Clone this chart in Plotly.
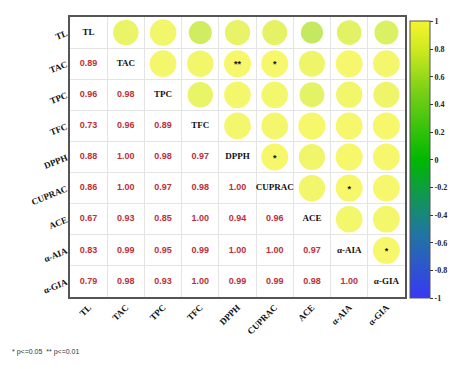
import numpy as np
import plotly.graph_objects as go

labels = ["TL", "TAC", "TPC", "TFC", "DPPH", "CUPRAC", "ACE", "α-AIA", "α-GIA"]

# lower-triangle Pearson coefficients, row by row
lower_rows = [
    [],
    [0.89],
    [0.96, 0.98],
    [0.73, 0.96, 0.89],
    [0.88, 1.00, 0.98, 0.97],
    [0.86, 1.00, 0.97, 0.98, 1.00],
    [0.67, 0.93, 0.85, 1.00, 0.94, 0.96],
    [0.83, 0.99, 0.95, 0.99, 1.00, 1.00, 0.97],
    [0.79, 0.98, 0.93, 1.00, 0.99, 0.99, 0.98, 1.00],
]

# significance marks in the upper triangle: (row, col, mark)
sig_marks = [
    ("TAC", "DPPH", "**"),
    ("TAC", "CUPRAC", "*"),
    ("DPPH", "CUPRAC", "*"),
    ("CUPRAC", "α-AIA", "*"),
    ("α-AIA", "α-GIA", "*"),
]

n = len(labels)
R = np.eye(n)
for i, row in enumerate(lower_rows):
    for j, v in enumerate(row):
        R[i, j] = v
        R[j, i] = v

# upper triangle: circles
cx, cy, cval = [], [], []
for i in range(n):
    for j in range(i + 1, n):
        cx.append(j)
        cy.append(i)
        cval.append(R[i, j])
cval = np.array(cval)

# lower triangle: numbers
tx, ty, tt = [], [], []
for i in range(n):
    for j in range(i):
        tx.append(j)
        ty.append(i)
        tt.append(f"<b>{R[i, j]:.2f}</b>")

colorscale = [
    [0.0, "#3838f5"],
    [0.25, "#1f7a9a"],
    [0.5, "#00b800"],
    [0.75, "#7cd018"],
    [0.9, "#cfea20"],
    [1.0, "#f4f42e"],
]

fig = go.Figure()

fig.add_trace(go.Scatter(
    x=cx, y=cy, mode="markers",
    marker=dict(
        size=27 * np.sqrt(np.abs(cval)),
        color=cval, cmin=-1, cmax=1, colorscale=colorscale,
        line=dict(width=0),
        colorbar=dict(
            x=1.015, xanchor="left", xpad=0, y=0.49, yanchor="middle", ypad=0,
            len=0.99, lenmode="fraction", thickness=20,
            outlinecolor="#555", outlinewidth=1,
            tickvals=[1, 0.8, 0.6, 0.4, 0.2, 0, -0.2, -0.4, -0.6, -0.8, -1],
            ticktext=["1", "0.8", "0.6", "0.4", "0.2", "0", "-0.2", "-0.4", "-0.6", "-0.8", "-1"],
            ticks="outside", ticklen=3, tickcolor="#333",
            tickfont=dict(family="Liberation Serif", size=8, color="#222", weight="bold"),
        ),
    ),
    hoverinfo="skip", showlegend=False,
))

fig.add_trace(go.Scatter(
    x=tx, y=ty, mode="text", text=tt,
    textfont=dict(family="Liberation Sans", size=9, color="#bd2f3a"),
    hoverinfo="skip", showlegend=False,
))

fig.add_trace(go.Scatter(
    x=list(range(n)), y=list(range(n)), mode="text",
    text=[f"<b>{s}</b>" for s in labels],
    textfont=dict(family="Liberation Serif", size=9, color="#111"),
    hoverinfo="skip", showlegend=False,
))

fig.add_trace(go.Scatter(
    x=[labels.index(c) for _, c, _ in sig_marks],
    y=[labels.index(r) + 0.05 for r, _, _ in sig_marks],
    mode="text", text=[f"<b>{m}</b>" for _, _, m in sig_marks],
    textfont=dict(family="Liberation Sans", size=9, color="#111"),
    hoverinfo="skip", showlegend=False,
))

half = [k + 0.5 for k in range(n - 1)]
axis_common = dict(
    tickmode="array", tickvals=list(range(n)),
    ticktext=[f"<b>{s}</b>" for s in labels],
    tickfont=dict(family="Liberation Serif", size=9, color="#111"),
    showgrid=False, zeroline=False, ticks="",
    showline=True, mirror=True, linecolor="#555", linewidth=1.5,
    minor=dict(tickmode="array", tickvals=half, showgrid=True,
               gridcolor="#e4e4e4", gridwidth=1, ticks=""),
)

fig.update_xaxes(range=[-0.5, n - 0.5], tickangle=-45, automargin=False, **axis_common)
fig.update_yaxes(range=[n - 0.5, -0.5], tickangle=-22, automargin=False, **axis_common)

fig.add_annotation(
    text="* p<=0.05  ** p<=0.01", xref="paper", yref="paper",
    x=-0.18, y=-0.195, xanchor="left", yanchor="middle", showarrow=False,
    font=dict(family="Liberation Sans", size=7, color="#333"),
)

fig.update_layout(
    width=450, height=369,
    margin=dict(l=70, r=45, t=17, b=72, autoexpand=False),
    paper_bgcolor="white", plot_bgcolor="white",
)

fig.write_html("out.html")
